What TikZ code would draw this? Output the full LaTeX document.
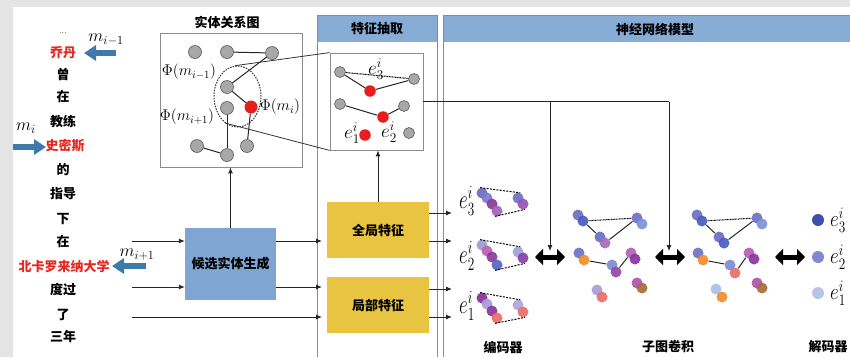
\documentclass[tikz,border=0pt]{standalone}
\usepackage{fix-cm}
\usepackage{fontspec}
\newfontfamily\cjk{Noto Sans CJK SC}
\usetikzlibrary{arrows.meta,shapes.geometric}
\pgfdeclarelayer{background}
\pgfsetlayers{background,main}
\definecolor{bggray}{HTML}{E4E4E4}
\definecolor{headblue}{HTML}{87ACD6}
\definecolor{candblue}{HTML}{7FA6D3}
\definecolor{featyellow}{HTML}{E9C440}
\definecolor{arrowblue}{HTML}{3E7AAA}
\definecolor{namered}{HTML}{E8261F}
\definecolor{colline}{HTML}{8C8C8C}
\definecolor{nodegray}{HTML}{A8A8A8}
\definecolor{nodered}{HTML}{E81E1E}
\begin{document}
\begin{tikzpicture}[x=1pt,y=-1pt,
  cjkt/.style={font=\cjk\bfseries\fontsize{13}{15}\selectfont, inner sep=0pt},
  redt/.style={cjkt, text=namered},
  mlab/.style={inner sep=0pt, font=\fontsize{15.5}{17}\selectfont},
  mmlab/.style={inner sep=0pt, font=\fontsize{17.5}{19}\selectfont},
  elab/.style={inner sep=0pt, font=\fontsize{19}{21}\selectfont},
  gnode/.style={circle, draw=gray!70!black, fill=nodegray, minimum size=13pt, inner sep=0pt, line width=0.6pt},
  rnode/.style={circle, fill=nodered, minimum size=13pt, inner sep=0pt},
  fgnode/.style={gnode, minimum size=11pt},
  frnode/.style={rnode, minimum size=11.5pt},
  ball/.style={circle, minimum size=11pt, inner sep=0pt, fill opacity=0.92},
  dball/.style={circle, minimum size=12pt, inner sep=0pt},
  edge/.style={line width=1pt, draw=black!85},
  dotedge/.style={line width=1pt, dash pattern=on 1pt off 0.6pt},
  dashedge/.style={line width=1pt, dash pattern=on 2pt off 1.3pt},
  arr/.style={line width=0.9pt, draw=black!85, -{Latex[length=6pt,width=5pt]}},
  bluearr/.style={line width=6pt, draw=arrowblue, -{Triangle[length=12pt,width=15pt]}},
  dbl/.style={line width=5pt, {Triangle[length=8pt,width=16pt]}-{Triangle[length=8pt,width=16pt]}},
  colborder/.style={draw=colline, line width=0.8pt}
]
\useasboundingbox (0,0) rectangle (850,357);
% background strips
\fill[bggray] (0,0) rectangle (850,7);
\fill[bggray] (0,0) rectangle (13,357);

% columns
\fill[headblue] (317,15) rectangle (437,42);
\draw[colborder] (317,357) -- (317,15) -- (437,15) -- (437,357);
\fill[headblue] (443,15) rectangle (850,42);
\draw[colborder] (443,357) -- (443,15) -- (850,15);
\node[cjkt] (hfeat) at (377,29) {特征抽取};
\node[cjkt] (hnn) at (655,29) {神经网络模型};

% left sentence
\node[cjkt, font=\fontsize{9}{9}\selectfont] (t0) at (63,33) {...};
\node[redt] (t1) at (63,53) {乔丹};
\node[cjkt] (t2) at (63,75) {曾};
\node[cjkt] (t3) at (63,97) {在};
\node[cjkt] (t4) at (63,121) {教练};
\node[redt] (t5) at (65,146) {史密斯};
\node[cjkt] (t6) at (63,170) {的};
\node[cjkt] (t7) at (63,194) {指导};
\node[cjkt] (t8) at (63,219) {下};
\node[cjkt] (t9) at (63,242) {在};
\node[redt] (t10) at (64,267) {北卡罗来纳大学};
\node[cjkt] (t11) at (63,290) {度过};
\node[cjkt] (t12) at (63,315) {了};
\node[cjkt] (t13) at (63,337) {三年};

% blue mention arrows
\coordinate (b1s) at (116,53); \coordinate (b1e) at (84,53);
\coordinate (b2s) at (13,147); \coordinate (b2e) at (46,147);
\coordinate (b3s) at (146,266); \coordinate (b3e) at (112,266);
\draw[bluearr] (b1s) -- (b1e);
\draw[bluearr] (b2s) -- (b2e);
\draw[bluearr] (b3s) -- (b3e);
\node[mmlab] (lm1) at (106,40) {$m_{i-1}$};
\node[mmlab] (lm2) at (26,128) {$m_i$};
\node[mmlab] (lm3) at (137,255) {$m_{i+1}$};

% entity relation graph
\node[cjkt] (ertitle) at (227,22) {实体关系图};
\node[draw=colline, line width=0.8pt, minimum width=142pt, minimum height=134pt, inner sep=0pt] (erbox) at (231,100) {};
\node[gnode] (g1) at (195,52) {};
\node[gnode] (g2) at (227,52) {};
\node[gnode] (g3) at (272,53) {};
\node[gnode] (g4) at (227,87) {};
\node[rnode] (r1) at (251,107) {};
\node[gnode] (g5) at (227,108) {};
\node[gnode] (g6) at (197,146) {};
\node[gnode] (g7) at (227,155) {};
\node[gnode] (g8) at (247,146) {};
\draw[edge] (g2) -- (g3);
\draw[edge] (g3) -- (g4);
\draw[edge] (g4) -- (r1);
\draw[edge] (g5) -- (g7);
\draw[edge] (g6) -- (g7);
\draw[edge] (r1) -- (g8);
\node[ellipse, draw=black!80, line width=1pt, dash pattern=on 1.5pt off 1.2pt, minimum width=47pt, minimum height=61pt, inner sep=0pt] (ell) at (237.5,96.5) {};
\node[mlab] (phi1) at (189,72) {$\Phi(m_{i-1})$};
\node[mlab] (phi3) at (187,117) {$\Phi(m_{i+1})$};
\node[mlab] (phi2) at (280,107) {$\Phi(m_i)$};

% feature box
\node[draw=colline, line width=0.8pt, minimum width=93pt, minimum height=97pt, inner sep=0pt] (fbox) at (376.5,101.5) {};
\node[fgnode] (f1) at (340,72) {};
\node[fgnode] (f2) at (414,79) {};
\node[frnode] (fr1) at (370,91) {};
\node[fgnode] (f3) at (340,104) {};
\node[fgnode] (f4) at (404,106) {};
\node[frnode] (fr2) at (383,117) {};
\node[frnode] (fr3) at (365,135) {};
\node[fgnode] (f5) at (409,133) {};
\draw[edge] (f1) -- (fr1);
\draw[edge] (fr1) -- (f2);
\draw[dotedge] (f1) -- (f2);
\draw[edge] (f3) -- (fr2);
\draw[edge] (fr2) -- (f4);
\node[elab] (fe3) at (376,69) {$e_3^i$};
\node[elab] (fe1) at (352,133) {$e_1^i$};
\node[elab] (fe2) at (389,132) {$e_2^i$};
\draw[line width=0.8pt, draw=black!80] (ell.95) -- (fbox.north west);
\draw[line width=0.8pt, draw=black!80] (ell.245) -- (fbox.south west);

% process boxes
\node[fill=candblue, minimum width=91pt, minimum height=72pt, cjkt] (cand) at (230.5,264) {候选实体生成};
\node[fill=featyellow, minimum width=102pt, minimum height=56pt, cjkt] (glob) at (378,230) {全局特征};
\node[fill=featyellow, minimum width=102pt, minimum height=56pt, cjkt] (loc) at (378,305) {局部特征};
\draw[arr] (cand.north) -- (cand.north |- erbox.south);
\draw[arr] (glob.north) -- (glob.north |- fbox.south);

% input lines
\coordinate (l1) at (132,241); \coordinate (l2) at (132,287); \coordinate (l3) at (132,317);
\coordinate (c1) at (322,241); \coordinate (c2) at (322,287); \coordinate (c3) at (322,317);
\draw[arr] (l1) -- (l1 -| cand.west);
\draw[arr] (l2) -- (l2 -| cand.west);
\draw[arr] (l3) -- (c3);
\draw[arr] (c1 -| cand.east) -- (c1);
\draw[arr] (c2 -| cand.east) -- (c2);

% feature outputs
\coordinate (o1) at (452,213); \coordinate (o2) at (452,241);
\coordinate (o3) at (452,289); \coordinate (o4) at (452,317);
\draw[arr] (o1 -| glob.east) -- (o1);
\draw[arr] (o2 -| glob.east) -- (o2);
\draw[arr] (o3 -| loc.east) -- (o3);
\draw[arr] (o4 -| loc.east) -- (o4);

% double arrows
\coordinate (da1l) at (535,257); \coordinate (da1r) at (565,257);
\coordinate (da2l) at (655,257); \coordinate (da2r) at (685,257);
\coordinate (da3l) at (775,257); \coordinate (da3r) at (805,257);
\draw[dbl] (da1l) -- (da1r);
\draw[dbl] (da2l) -- (da2r);
\draw[dbl] (da3l) -- (da3r);
\coordinate (j1) at (550,101.5); \coordinate (j2) at (669,101.5);
\coordinate (j1e) at (550,251); \coordinate (j2e) at (669,251);
\draw[line width=0.9pt, draw=black!85] (fbox.east) -- (j2);
\draw[arr] (j1) -- (j1e);
\draw[arr] (j2) -- (j2e);

% encoder
\node[elab] (ee3) at (467,201) {\scalebox{1}[1.4]{$e_3^i$}};
\node[elab] (ee2) at (467,256) {\scalebox{1}[1.4]{$e_2^i$}};
\node[elab] (ee1) at (467,306) {\scalebox{1}[1.4]{$e_1^i$}};
% cluster 3
\node[ball, fill={rgb,255:red,106;green,108;blue,192}] (e3a) at (482,193) {};
\node[ball, fill={rgb,255:red,124;green,124;blue,204}] (e3b) at (487,198) {};
\node[ball, fill={rgb,255:red,138;green,58;blue,154}] (e3c) at (492,204) {};
\node[ball, fill={rgb,255:red,160;green,96;blue,184}] (e3d) at (497,211) {};
\node[ball, fill={rgb,255:red,106;green,112;blue,200}] (e3e) at (518,198) {};
\node[ball, fill={rgb,255:red,150;green,84;blue,180}] (e3f) at (523,204) {};
\draw[dashedge] (e3a.110) -- (e3e.65);
\draw[dashedge] (e3d.250) -- (e3f.290);
% cluster 2
\node[ball, fill={rgb,255:red,157;green,154;blue,216}] (e2a) at (482,245) {};
\node[ball, fill={rgb,255:red,190;green,96;blue,176}] (e2b) at (487,251) {};
\node[ball, fill={rgb,255:red,138;green,58;blue,160}] (e2c) at (492,257) {};
\node[ball, fill={rgb,255:red,85;green,102;blue,196}] (e2d) at (497,265) {};
\node[ball, fill={rgb,255:red,159;green,160;blue,218}] (e2e) at (518,252) {};
\node[ball, fill={rgb,255:red,138;green,64;blue,168}] (e2f) at (523,258) {};
\draw[dashedge] (e2a.110) -- (e2e.65);
\draw[dashedge] (e2d.250) -- (e2f.290);
% cluster 1
\node[ball, fill={rgb,255:red,138;green,47;blue,154}] (e1a) at (482,298) {};
\node[ball, fill={rgb,255:red,168;green,154;blue,214}] (e1b) at (487,304) {};
\node[ball, fill={rgb,255:red,138;green,53;blue,160}] (e1c) at (492,311) {};
\node[ball, fill={rgb,255:red,235;green,110;blue,102}] (e1d) at (497,318) {};
\node[ball, fill={rgb,255:red,170;green,166;blue,220}] (e1e) at (518,305) {};
\node[ball, fill={rgb,255:red,235;green,110;blue,102}] (e1f) at (523,312) {};
\draw[dashedge] (e1a.110) -- (e1e.65);
\draw[dashedge] (e1d.250) -- (e1f.290);

% subgraph convolution A
\node[ball, fill={rgb,255:red,106;green,111;blue,194}] (A1a) at (578,215) {};
\node[ball, fill={rgb,255:red,74;green,91;blue,192}] (A1b) at (583,221) {};
\node[ball, fill={rgb,255:red,108;green,112;blue,196}] (A2a) at (637,218) {};
\node[ball, fill={rgb,255:red,125;green,146;blue,216}] (A2b) at (642,224) {};
\node[ball, fill={rgb,255:red,109;green,109;blue,196}] (A3a) at (600,237) {};
\node[ball, fill={rgb,255:red,163;green,108;blue,186}] (A3b) at (605,243) {};
\node[ball, fill={rgb,255:red,107;green,114;blue,198}] (A4a) at (579,253) {};
\node[ball, fill={rgb,255:red,242;green,140;blue,44}] (A4b) at (584,260) {};
\node[ball, fill={rgb,255:red,123;green,142;blue,210}] (A5a) at (612,265) {};
\node[ball, fill={rgb,255:red,143;green,72;blue,168}] (A5b) at (616,272) {};
\node[ball, fill={rgb,255:red,180;green,95;blue,180}] (A6a) at (631,253) {};
\node[ball, fill={rgb,255:red,138;green,53;blue,160}] (A6b) at (635,259) {};
\node[ball, fill={rgb,255:red,169;green,156;blue,216}] (A7a) at (597,290) {};
\node[ball, fill={rgb,255:red,234;green,111;blue,104}] (A7b) at (602,297) {};
\node[ball, fill={rgb,255:red,176;green,80;blue,170}] (A8a) at (637,283) {};
\node[ball, fill={rgb,255:red,168;green,108;blue,60}] (A8b) at (642,288) {};
\begin{pgfonlayer}{background}
\draw[dotedge] (A1b) -- (A2a);
\draw[edge] (A1b) -- (A3a);
\draw[edge] (A3b) -- (A2a);
\draw[edge] (A4b) -- (A5a);
\draw[edge] (A5b) -- (A6a);
\end{pgfonlayer}

% subgraph convolution B
\node[ball, fill={rgb,255:red,106;green,111;blue,194}] (B1a) at (697,215) {};
\node[ball, fill={rgb,255:red,74;green,91;blue,192}] (B1b) at (702,221) {};
\node[ball, fill={rgb,255:red,108;green,112;blue,196}] (B2a) at (757,218) {};
\node[ball, fill={rgb,255:red,125;green,146;blue,216}] (B2b) at (762,224) {};
\node[ball, fill={rgb,255:red,109;green,109;blue,196}] (B3a) at (719,237) {};
\node[ball, fill={rgb,255:red,74;green,91;blue,192}] (B3b) at (724,243) {};
\node[ball, fill={rgb,255:red,107;green,114;blue,198}] (B4a) at (698,253) {};
\node[ball, fill={rgb,255:red,242;green,140;blue,44}] (B4b) at (703,260) {};
\node[ball, fill={rgb,255:red,123;green,142;blue,210}] (B5a) at (730,265) {};
\node[ball, fill={rgb,255:red,234;green,111;blue,104}] (B5b) at (735,273) {};
\node[ball, fill={rgb,255:red,180;green,95;blue,180}] (B6a) at (749,253) {};
\node[ball, fill={rgb,255:red,138;green,53;blue,160}] (B6b) at (754,259) {};
\node[ball, fill={rgb,255:red,169;green,192;blue,232}] (B7a) at (716,289) {};
\node[ball, fill={rgb,255:red,242;green,140;blue,44}] (B7b) at (722,297) {};
\node[ball, fill={rgb,255:red,176;green,80;blue,170}] (B8a) at (757,283) {};
\node[ball, fill={rgb,255:red,168;green,108;blue,60}] (B8b) at (762,288) {};
\begin{pgfonlayer}{background}
\draw[dotedge] (B1b) -- (B2a);
\draw[edge] (B1b) -- (B3a);
\draw[edge] (B3b) -- (B2a);
\draw[edge] (B4b) -- (B5a);
\draw[edge] (B5b) -- (B6a);
\end{pgfonlayer}

% decoder
\node[dball, fill={rgb,255:red,63;green,79;blue,174}] (D3) at (818,220) {};
\node[dball, fill={rgb,255:red,127;green,138;blue,208}] (D2) at (818,257) {};
\node[dball, fill={rgb,255:red,185;green,195;blue,232}] (D1) at (818,293) {};
\node[elab] (de3) at (838,220) {\scalebox{1}[1.2]{$e_3^i$}};
\node[elab] (de2) at (838,257) {\scalebox{1}[1.2]{$e_2^i$}};
\node[elab] (de1) at (838,293) {\scalebox{1}[1.2]{$e_1^i$}};

% bottom labels
\node[cjkt] (lenc) at (503,347) {编码器};
\node[cjkt] (lsub) at (668,347) {子图卷积};
\node[cjkt] (ldec) at (828,347) {解码器};
\end{tikzpicture}
\end{document}
